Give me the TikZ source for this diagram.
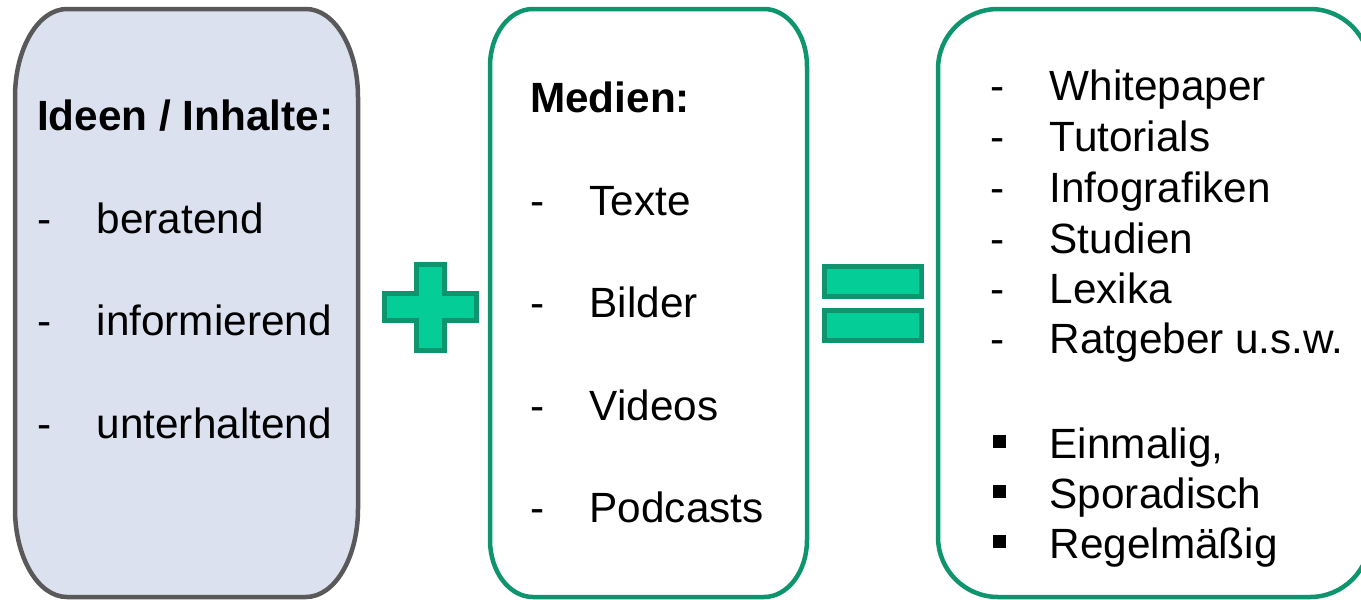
\documentclass[tikz,border=0pt]{standalone}
\usepackage{fontspec}
\setmainfont{Liberation Sans}
\definecolor{frameGray}{HTML}{595959}
\definecolor{ideaFill}{HTML}{DCE1EF}
\definecolor{mintLine}{HTML}{0E956E}
\definecolor{mintFill}{HTML}{04CD98}
% box with elliptical corners: style, x0, y0, x1, y1, rx, ry
\newcommand\softbox[7]{%
  \path[#1] ({#2+#6},#3) -- ({#4-#6},#3)
    arc[start angle=-90, end angle=0, x radius=#6, y radius=#7]
    -- (#4,{#5-#7})
    arc[start angle=0, end angle=90, x radius=#6, y radius=#7]
    -- ({#2+#6},#5)
    arc[start angle=90, end angle=180, x radius=#6, y radius=#7]
    -- (#2,{#3+#7})
    arc[start angle=180, end angle=270, x radius=#6, y radius=#7]
    -- cycle;}
\newcommand\dashlabel[1]{\makebox[59.5pt][l]{-}#1}
\newcommand\squarelabel[1]{\makebox[59.5pt][l]{\hspace{3pt}\raisebox{10pt}{\rule{13pt}{13pt}}}#1}
\tikzset{
  ideaframe/.style={draw=frameGray, fill=ideaFill, line width=4.5pt},
  mintframe/.style={draw=mintLine, fill=white, line width=4.5pt},
  operator/.style={draw=mintLine, fill=mintFill, line width=5pt, line join=miter},
  txt/.style={anchor=base west, inner sep=0pt, font=\fontsize{42.3}{50}\selectfont},
  head/.style={txt, font=\fontsize{42.3}{50}\selectfont\bfseries},
}
\begin{document}
\begin{tikzpicture}[x=1pt, y=-1pt]
\useasboundingbox (0,0) rectangle (1361,600);
\clip (0,0) rectangle (1361,600);

% three frames
\softbox{ideaframe}{15}{9}{358}{597}{52}{88}
\softbox{mintframe}{490}{9}{807}{597}{43}{57}
\softbox{mintframe}{938}{9}{1370}{597}{60}{60}

% plus sign
\path[operator] (416.5,264.5) -- (444.5,264.5) -- (444.5,293.5) -- (476.5,293.5)
  -- (476.5,320.5) -- (444.5,320.5) -- (444.5,350.5) -- (416.5,350.5)
  -- (416.5,320.5) -- (384.5,320.5) -- (384.5,293.5) -- (416.5,293.5) -- cycle;

% equals sign
\path[operator] (824.5,266.5) rectangle (921.5,296.5);
\path[operator] (824.5,310.5) rectangle (921.5,340.5);

% ideas
\node[head] (ideas) at (37,130) {Ideen / Inhalte:};
\node[txt] (i1) at (37,233) {\dashlabel{beratend}};
\node[txt] (i2) at (37,335) {\dashlabel{informierend}};
\node[txt] (i3) at (37,438) {\dashlabel{unterhaltend}};

% media
\node[head] (media) at (530,112) {Medien:};
\node[txt] (m1) at (530,215) {\dashlabel{Texte}};
\node[txt] (m2) at (530,317) {\dashlabel{Bilder}};
\node[txt] (m3) at (530,420) {\dashlabel{Videos}};
\node[txt] (m4) at (530,522) {\dashlabel{Podcasts}};

% results
\node[txt] (r1) at (990,100) {\dashlabel{Whitepaper}};
\node[txt] (r2) at (990,151) {\dashlabel{Tutorials}};
\node[txt] (r3) at (990,202) {\dashlabel{Infografiken}};
\node[txt] (r4) at (990,253) {\dashlabel{Studien}};
\node[txt] (r5) at (990,303) {\dashlabel{Lexika}};
\node[txt] (r6) at (990,353) {\dashlabel{Ratgeber u.s.w.}};
\node[txt] (f1) at (990,458) {\squarelabel{Einmalig,}};
\node[txt] (f2) at (990,508) {\squarelabel{Sporadisch}};
\node[txt] (f3) at (990,558) {\squarelabel{Regelmäßig}};
\end{tikzpicture}
\end{document}
